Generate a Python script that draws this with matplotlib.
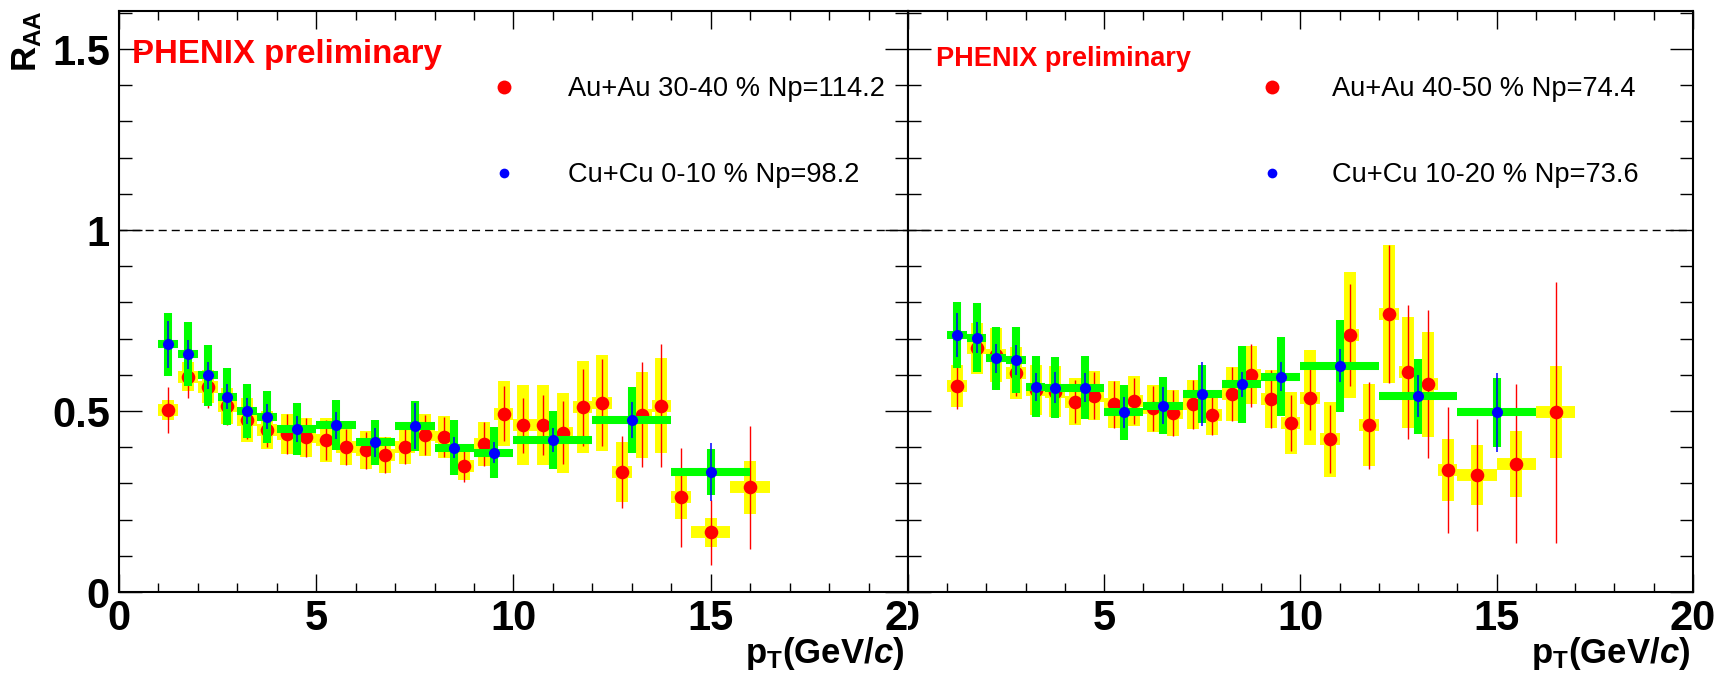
import matplotlib
matplotlib.use('Agg')
import matplotlib.pyplot as plt
from matplotlib.ticker import MultipleLocator
from matplotlib.transforms import Bbox, TransformedBbox
from matplotlib.lines import Line2D
from matplotlib import font_manager as fm

names = {f.name for f in fm.fontManager.ttflist}
SANS = 'Liberation Sans' if 'Liberation Sans' in names else 'DejaVu Sans'
NARROW = 'Liberation Sans Narrow' if 'Liberation Sans Narrow' in names else SANS

plt.rcParams.update({
    'font.family': [SANS, 'DejaVu Sans'],
    'mathtext.fontset': 'custom',
    'mathtext.rm': SANS,
    'mathtext.bf': SANS + ':bold',
    'mathtext.it': SANS + ':italic',
    'lines.scale_dashes': False,
})
try:
    plt.rcParams['mathtext.bfit'] = SANS + ':italic:bold'
except KeyError:
    pass

# ---------------- data ----------------
# Left panel: Au+Au 30-40 %  vs  Cu+Cu 0-10 %
pt_au_left = [1.25, 1.75, 2.25, 2.75, 3.25, 3.75, 4.25, 4.75, 5.25, 5.75, 6.25, 6.75,
              7.25, 7.75, 8.25, 8.75, 9.25, 9.75, 10.25, 10.75, 11.25, 11.75, 12.25,
              12.75, 13.25, 13.75, 14.25, 15.0, 16.0]
dpt_au_left = [0.25] * 27 + [0.5, 0.5]
raa_au_left = [0.503, 0.595, 0.567, 0.514, 0.475, 0.447, 0.436, 0.427, 0.420, 0.401,
               0.392, 0.378, 0.401, 0.434, 0.429, 0.349, 0.409, 0.492, 0.461, 0.461,
               0.440, 0.510, 0.523, 0.331, 0.489, 0.515, 0.262, 0.165, 0.289]
stat_au_left = [0.064, 0.060, 0.058, 0.052, 0.052, 0.047, 0.055, 0.053, 0.055, 0.050,
                0.051, 0.050, 0.048, 0.055, 0.055, 0.045, 0.060, 0.076, 0.076, 0.083,
                0.087, 0.106, 0.120, 0.100, 0.145, 0.170, 0.137, 0.090, 0.170]
sys_au_left = [0.028, 0.040, 0.046, 0.050, 0.060, 0.052, 0.056, 0.055, 0.060, 0.050,
               0.053, 0.050, 0.048, 0.057, 0.058, 0.040, 0.060, 0.090, 0.110, 0.110,
               0.110, 0.127, 0.133, 0.083, 0.120, 0.132, 0.060, 0.040, 0.073]

pt_cu_left = [1.25, 1.75, 2.25, 2.75, 3.25, 3.75, 4.5, 5.5, 6.5, 7.5, 8.5, 9.5, 11.0, 13.0, 15.0]
dpt_cu_left = [0.25] * 6 + [0.5] * 6 + [1.0] * 3
raa_cu_left = [0.684, 0.657, 0.599, 0.540, 0.500, 0.484, 0.450, 0.461, 0.413, 0.459,
               0.399, 0.385, 0.420, 0.475, 0.331]
stat_cu_left = [0.066, 0.040, 0.037, 0.035, 0.036, 0.035, 0.035, 0.037, 0.040, 0.064,
                0.028, 0.030, 0.032, 0.049, 0.080]
sys_cu_left = [0.088, 0.089, 0.084, 0.078, 0.074, 0.072, 0.071, 0.070, 0.062, 0.070,
               0.076, 0.070, 0.080, 0.090, 0.064]

# Right panel: Au+Au 40-50 %  vs  Cu+Cu 10-20 %
pt_au_right = [1.25, 1.75, 2.25, 2.75, 3.25, 3.75, 4.25, 4.75, 5.25, 5.75, 6.25, 6.75,
               7.25, 7.75, 8.25, 8.75, 9.25, 9.75, 10.25, 10.75, 11.25, 11.75, 12.25,
               12.75, 13.25, 13.75, 14.5, 15.5, 16.5]
dpt_au_right = [0.25] * 26 + [0.5, 0.5, 0.5]
raa_au_right = [0.569, 0.673, 0.655, 0.604, 0.558, 0.553, 0.526, 0.542, 0.518, 0.528,
                0.507, 0.495, 0.518, 0.489, 0.547, 0.599, 0.532, 0.466, 0.537, 0.422,
                0.710, 0.461, 0.768, 0.607, 0.574, 0.337, 0.323, 0.354, 0.496]
stat_au_right = [0.063, 0.063, 0.040, 0.062, 0.050, 0.050, 0.060, 0.065, 0.064, 0.063,
                 0.062, 0.064, 0.067, 0.056, 0.075, 0.087, 0.080, 0.077, 0.090, 0.094,
                 0.142, 0.120, 0.190, 0.185, 0.205, 0.174, 0.154, 0.220, 0.360]
sys_au_right = [0.057, 0.070, 0.075, 0.072, 0.070, 0.070, 0.065, 0.068, 0.064, 0.069,
                0.065, 0.064, 0.067, 0.056, 0.075, 0.080, 0.080, 0.086, 0.131, 0.104,
                0.175, 0.114, 0.190, 0.153, 0.145, 0.085, 0.082, 0.092, 0.127]

pt_cu_right = [1.25, 1.75, 2.25, 2.75, 3.25, 3.75, 4.5, 5.5, 6.5, 7.5, 8.5, 9.5, 11.0, 13.0, 15.0]
dpt_cu_right = [0.25] * 6 + [0.5] * 6 + [1.0] * 3
raa_cu_right = [0.710, 0.703, 0.646, 0.641, 0.567, 0.564, 0.564, 0.496, 0.515, 0.547,
                0.574, 0.595, 0.625, 0.541, 0.496]
stat_cu_right = [0.062, 0.044, 0.040, 0.042, 0.039, 0.043, 0.040, 0.043, 0.052, 0.088,
                 0.035, 0.041, 0.045, 0.058, 0.108]
sys_cu_right = [0.090, 0.095, 0.087, 0.092, 0.084, 0.084, 0.087, 0.075, 0.078, 0.080,
                0.106, 0.110, 0.127, 0.104, 0.096]

labels_left = ['Au+Au 30-40 % Np=114.2', 'Cu+Cu 0-10 % Np=98.2']
labels_right = ['Au+Au 40-50 % Np=74.4', 'Cu+Cu 10-20 % Np=73.6']

x_ticks = [0, 5, 10, 15, 20]
x_ticklabels = ['0', '5', '10', '15', '20']
y_ticks = [0, 0.5, 1, 1.5]
y_ticklabels = ['0', '0.5', '1', '1.5']

# ---------------- style ----------------
RED = '#ff0000'
BLUE = '#0000ff'
YELLOW = '#ffff00'
GREEN = '#00ff00'

W, H = 1724, 674
fig = plt.figure(figsize=(W / 100, H / 100), dpi=100)
fig.patch.set_facecolor('white')


def px_axes(l, t, r, b):
    return fig.add_axes([l / W, 1 - b / H, (r - l) / W, (b - t) / H])


axL = px_axes(119, 11, 908, 592)
axR = px_axes(908, 11, 1693, 592)


def draw_panel(ax, pt_au, dpt_au, r_au, st_au, sy_au, pt_cu, dpt_cu, r_cu, st_cu, sy_cu):
    ax.axhline(1.0, color='black', lw=1.0, ls=(0, (5.8, 3.6)), zorder=1)
    ax.errorbar(pt_au, r_au, xerr=dpt_au, yerr=sy_au, fmt='none', ecolor=YELLOW,
                elinewidth=8.6, capsize=0, zorder=2)
    ax.errorbar(pt_au, r_au, yerr=st_au, fmt='o', color=RED, ms=9.8, mew=0,
                elinewidth=1.0, capsize=0, zorder=3)
    ax.errorbar(pt_cu, r_cu, xerr=dpt_cu, yerr=sy_cu, fmt='none', ecolor=GREEN,
                elinewidth=5.8, capsize=0, zorder=4)
    ax.errorbar(pt_cu, r_cu, yerr=st_cu, fmt='o', color=BLUE, ms=8.0, mew=0,
                elinewidth=1.1, capsize=0, zorder=5)
    ax.set_xlim(0, 20)
    ax.set_ylim(0, 1.605)
    ax.set_xticks(x_ticks)
    ax.set_xticklabels(x_ticklabels, fontsize=30, fontweight='bold', family=NARROW)
    ax.set_yticks(y_ticks)
    ax.set_yticklabels(y_ticklabels, fontsize=30, fontweight='bold')
    ax.xaxis.set_minor_locator(MultipleLocator(1))
    ax.yaxis.set_minor_locator(MultipleLocator(0.1))
    ax.tick_params(axis='both', which='both', direction='in', top=True, right=True,
                   width=1.0, color='black')
    ax.tick_params(axis='y', which='major', length=16.5, pad=6.5)
    ax.tick_params(axis='y', which='minor', length=9.4)
    ax.tick_params(axis='x', which='major', length=13, pad=5)
    ax.tick_params(axis='x', which='minor', length=6.5)
    for s in ax.spines.values():
        s.set_linewidth(1.5)


draw_panel(axL, pt_au_left, dpt_au_left, raa_au_left, stat_au_left, sys_au_left,
           pt_cu_left, dpt_cu_left, raa_cu_left, stat_cu_left, sys_cu_left)
draw_panel(axR, pt_au_right, dpt_au_right, raa_au_right, stat_au_right, sys_au_right,
           pt_cu_right, dpt_cu_right, raa_cu_right, stat_cu_right, sys_cu_right)
axR.tick_params(labelleft=False)

# clip x tick labels at the pad boundary, like the two ROOT pads
split = 908 / W
clipL = TransformedBbox(Bbox([[0, 0], [split, 1]]), fig.transFigure)
clipR = TransformedBbox(Bbox([[split, 0], [1, 1]]), fig.transFigure)
for lab in axL.get_xticklabels():
    lab.set_clip_box(clipL)
    lab.set_clip_on(True)
for lab in axR.get_xticklabels():
    lab.set_clip_box(clipR)
    lab.set_clip_on(True)

# PHENIX preliminary
axL.text(0.0165, 0.9105, 'PHENIX preliminary', transform=axL.transAxes, color=RED,
         fontsize=23.8, fontweight='bold', va='baseline', ha='left')
axR.text(0.0357, 0.905, 'PHENIX preliminary', transform=axR.transAxes, color=RED,
         fontsize=19.5, fontweight='bold', va='baseline', ha='left')

# legends
for ax, labs, xa, pad in ((axL, labels_left, 0.4702, 1.88), (axR, labels_right, 0.4459, 1.70)):
    handles = [Line2D([], [], ls='none', marker='o', color=RED, ms=10, mew=0),
               Line2D([], [], ls='none', marker='o', color=BLUE, ms=7, mew=0)]
    ax.legend(handles, labs, loc='center left', bbox_to_anchor=(xa, 0.791),
              frameon=False, fontsize=19.6, handlelength=1.0, handletextpad=pad,
              labelspacing=2.2, borderpad=0, borderaxespad=0, numpoints=1)

# axis titles
xlab = r'$\mathbf{p}_{\mathbf{T}}\mathbf{(GeV/}\mathbfit{c}\mathbf{)}$'
fig.text(904 / W, 1 - 663 / H, xlab, ha='right', va='baseline', fontsize=25)
fig.text(1690 / W, 1 - 663 / H, xlab, ha='right', va='baseline', fontsize=25)
fig.text(27 / W, 1 - 10 / H, r'$\mathbf{R}_{\mathbf{AA}}$', rotation=90,
         ha='center', va='top', fontsize=25)

fig.savefig('out.png', dpi=100, facecolor='white')
